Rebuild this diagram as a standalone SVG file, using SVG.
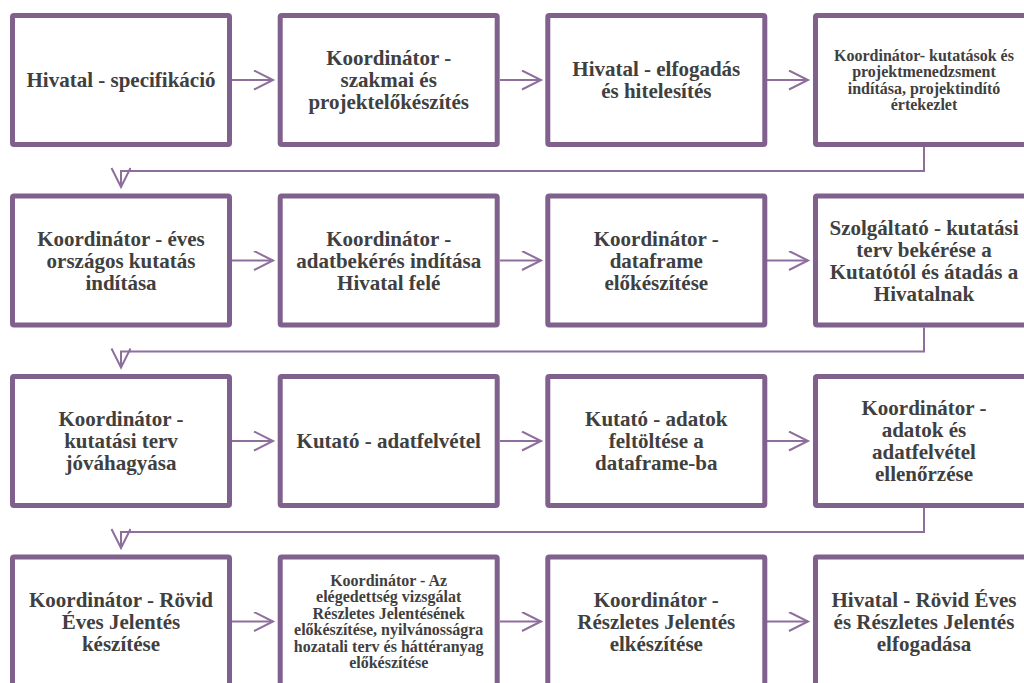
<svg xmlns="http://www.w3.org/2000/svg" width="1024" height="683" viewBox="0 0 1024 683">
<style>
.box{fill:#fff;stroke:#80608C;stroke-width:5}
.t{font-family:'Liberation Serif','Times New Roman','DejaVu Serif',serif;font-weight:700;font-size:21px;fill:#404040;text-anchor:middle}
.s{font-size:16px}
.c{fill:none;stroke:#8E6E9D;stroke-width:2}
</style>
<defs>
<marker id="ah" markerUnits="userSpaceOnUse" markerWidth="24" markerHeight="24" refX="20" refY="10" orient="auto">
<path d="M1,0.5 L20,10 L1,19.5" fill="none" stroke="#8E6E9D" stroke-width="2"/>
</marker>
</defs>
<rect width="1024" height="683" fill="#fff"/>
<g id="connectors">
<path class="c" d="M232,80 H273" marker-end="url(#ah)"/>
<path class="c" d="M500,80 H541" marker-end="url(#ah)"/>
<path class="c" d="M767,80 H808" marker-end="url(#ah)"/>
<path class="c" d="M924,147 V171 H121 V187" marker-end="url(#ah)"/>
<path class="c" d="M232,260.5 H273" marker-end="url(#ah)"/>
<path class="c" d="M500,260.5 H541" marker-end="url(#ah)"/>
<path class="c" d="M767,260.5 H808" marker-end="url(#ah)"/>
<path class="c" d="M924,327.5 V351.5 H121 V367.5" marker-end="url(#ah)"/>
<path class="c" d="M232,441 H273" marker-end="url(#ah)"/>
<path class="c" d="M500,441 H541" marker-end="url(#ah)"/>
<path class="c" d="M767,441 H808" marker-end="url(#ah)"/>
<path class="c" d="M924,508 V532 H121 V548" marker-end="url(#ah)"/>
<path class="c" d="M232,621.5 H273" marker-end="url(#ah)"/>
<path class="c" d="M500,621.5 H541" marker-end="url(#ah)"/>
<path class="c" d="M767,621.5 H808" marker-end="url(#ah)"/>
</g>
<g id="n1"><rect class="box" x="12.5" y="15.5" width="217" height="129" rx="1.5"/>
<text class="t" x="121" y="87">Hivatal - specifikáció</text></g>
<g id="n2"><rect class="box" x="280.2" y="15.5" width="217" height="129" rx="1.5"/>
<text class="t"><tspan x="388.7" y="65">Koordinátor -</tspan><tspan x="388.7" y="87">szakmai és</tspan><tspan x="388.7" y="109">projektelőkészítés</tspan></text></g>
<g id="n3"><rect class="box" x="547.8" y="15.5" width="217" height="129" rx="1.5"/>
<text class="t"><tspan x="656.3" y="76">Hivatal - elfogadás</tspan><tspan x="656.3" y="98">és hitelesítés</tspan></text></g>
<g id="n4"><rect class="box" x="815.5" y="15.5" width="217" height="129" rx="1.5"/>
<text class="t s"><tspan x="924" y="61">Koordinátor- kutatások és</tspan><tspan x="924" y="77.4">projektmenedzsment</tspan><tspan x="924" y="93.8">indítása, projektindító</tspan><tspan x="924" y="110.2">értekezlet</tspan></text></g>

<g id="n5"><rect class="box" x="12.5" y="196" width="217" height="129" rx="1.5"/>
<text class="t"><tspan x="121" y="245.5">Koordinátor - éves</tspan><tspan x="121" y="267.5">országos kutatás</tspan><tspan x="121" y="289.5">indítása</tspan></text></g>
<g id="n6"><rect class="box" x="280.2" y="196" width="217" height="129" rx="1.5"/>
<text class="t"><tspan x="388.7" y="245.5">Koordinátor -</tspan><tspan x="388.7" y="267.5">adatbekérés indítása</tspan><tspan x="388.7" y="289.5">Hivatal felé</tspan></text></g>
<g id="n7"><rect class="box" x="547.8" y="196" width="217" height="129" rx="1.5"/>
<text class="t"><tspan x="656.3" y="245.5">Koordinátor -</tspan><tspan x="656.3" y="267.5">dataframe</tspan><tspan x="656.3" y="289.5">előkészítése</tspan></text></g>
<g id="n8"><rect class="box" x="815.5" y="196" width="217" height="129" rx="1.5"/>
<text class="t"><tspan x="924" y="234.5">Szolgáltató - kutatási</tspan><tspan x="924" y="256.5">terv bekérése a</tspan><tspan x="924" y="278.5">Kutatótól és átadás a</tspan><tspan x="924" y="300.5">Hivatalnak</tspan></text></g>

<g id="n9"><rect class="box" x="12.5" y="376.5" width="217" height="129" rx="1.5"/>
<text class="t"><tspan x="121" y="426">Koordinátor -</tspan><tspan x="121" y="448">kutatási terv</tspan><tspan x="121" y="470">jóváhagyása</tspan></text></g>
<g id="n10"><rect class="box" x="280.2" y="376.5" width="217" height="129" rx="1.5"/>
<text class="t" x="388.7" y="448">Kutató - adatfelvétel</text></g>
<g id="n11"><rect class="box" x="547.8" y="376.5" width="217" height="129" rx="1.5"/>
<text class="t"><tspan x="656.3" y="426">Kutató - adatok</tspan><tspan x="656.3" y="448">feltöltése a</tspan><tspan x="656.3" y="470">dataframe-ba</tspan></text></g>
<g id="n12"><rect class="box" x="815.5" y="376.5" width="217" height="129" rx="1.5"/>
<text class="t"><tspan x="924" y="415">Koordinátor -</tspan><tspan x="924" y="437">adatok és</tspan><tspan x="924" y="459">adatfelvétel</tspan><tspan x="924" y="481">ellenőrzése</tspan></text></g>

<g id="n13"><rect class="box" x="12.5" y="557" width="217" height="129" rx="1.5"/>
<text class="t"><tspan x="121" y="606.5">Koordinátor - Rövid</tspan><tspan x="121" y="628.5">Éves Jelentés</tspan><tspan x="121" y="650.5">készítése</tspan></text></g>
<g id="n14"><rect class="box" x="280.2" y="557" width="217" height="129" rx="1.5"/>
<text class="t s"><tspan x="388.7" y="586">Koordinátor - Az</tspan><tspan x="388.7" y="602.4">elégedettség vizsgálat</tspan><tspan x="388.7" y="618.8">Részletes Jelentésének</tspan><tspan x="388.7" y="635.2">előkészítése, nyilvánosságra</tspan><tspan x="388.7" y="651.6">hozatali terv és háttéranyag</tspan><tspan x="388.7" y="668">előkészítése</tspan></text></g>
<g id="n15"><rect class="box" x="547.8" y="557" width="217" height="129" rx="1.5"/>
<text class="t"><tspan x="656.3" y="606.5">Koordinátor -</tspan><tspan x="656.3" y="628.5">Részletes Jelentés</tspan><tspan x="656.3" y="650.5">elkészítése</tspan></text></g>
<g id="n16"><rect class="box" x="815.5" y="557" width="217" height="129" rx="1.5"/>
<text class="t"><tspan x="924" y="606.5">Hivatal - Rövid Éves</tspan><tspan x="924" y="628.5">és Részletes Jelentés</tspan><tspan x="924" y="650.5">elfogadása</tspan></text></g>
</svg>
